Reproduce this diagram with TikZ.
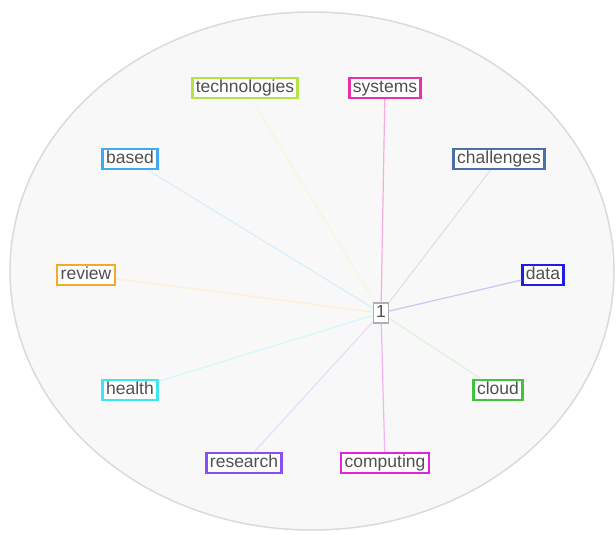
\documentclass[tikz,border=0pt]{standalone}
\usepackage{fontspec}
\setmainfont{Liberation Sans}
\usepackage{tikz}
\usetikzlibrary{arrows.meta}

\definecolor{ctech}{RGB}{178,228,70}
\definecolor{csys}{RGB}{232,50,168}
\definecolor{cbased}{RGB}{64,170,240}
\definecolor{cchal}{RGB}{74,112,165}
\definecolor{creview}{RGB}{246,168,40}
\definecolor{cdata}{RGB}{30,30,230}
\definecolor{chealth}{RGB}{60,230,240}
\definecolor{ccloud}{RGB}{64,196,64}
\definecolor{cresearch}{RGB}{136,80,240}
\definecolor{ccomp}{RGB}{226,36,220}
\definecolor{ctext}{RGB}{80,80,80}

\begin{document}
\begin{tikzpicture}[x=1pt,y=-1pt]
        \tikzset{term/.style = {shape=rectangle,draw,line width=2.4pt,fill=white,inner xsep=3.5pt,inner ysep=2pt,text=ctext,font=\fontsize{17.5}{20}\selectfont,text height=12.5pt,text depth=3.5pt}}
        \tikzset{link/.style = {line width=1.2pt}}
        \useasboundingbox (0,0) rectangle (616,535);
        \draw[fill={rgb,255:red,248;green,248;blue,248},draw={rgb,255:red,218;green,218;blue,218},line width=1.5pt] (312,271) ellipse (302 and 259);
        \node[term,draw=ctech] (technologies) at (245,88) {technologies};
        \node[term,draw=csys] (systems) at (385,88) {systems};
        \node[term,draw=cbased] (based) at (130,159) {based};
        \node[term,draw=cchal] (challenges) at (499,159) {challenges};
        \node[term,draw=creview] (review) at (86,275) {review};
        \node[term,draw=cdata] (data) at (543,275) {data};
        \node[term,draw=chealth] (health) at (130,390) {health};
        \node[term,draw=ccloud] (cloud) at (498,390) {cloud};
        \node[term,draw=cresearch] (research) at (244,463) {research};
        \node[term,draw=ccomp] (computing) at (385,463) {computing};
        \draw[link,ctech!20] (381,313) -- (technologies);
        \draw[link,csys!40] (381,313) -- (systems);
        \draw[link,cbased!20] (381,313) -- (based);
        \draw[link,cchal!20] (381,313) -- (challenges);
        \draw[link,creview!20] (381,313) -- (review);
        \draw[link,cdata!25] (381,313) -- (data);
        \draw[link,chealth!25] (381,313) -- (health);
        \draw[link,ccloud!20] (381,313) -- (cloud);
        \draw[link,cresearch!20] (381,313) -- (research);
        \draw[link,ccomp!35] (381,313) -- (computing);
        \node[term,draw={rgb,255:red,175;green,175;blue,175},line width=1.6pt,inner xsep=2.5pt] (hub) at (381,313) {1};
\end{tikzpicture}
\end{document}
